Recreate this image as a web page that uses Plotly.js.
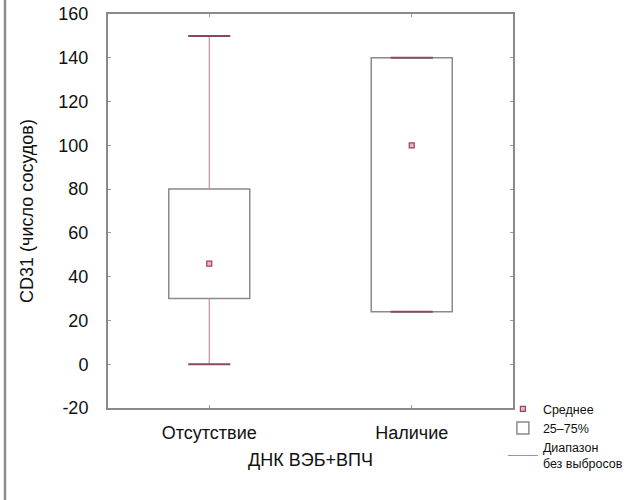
<!DOCTYPE html>
<html><head><meta charset="utf-8">
<script src="https://cdn.plot.ly/plotly-3.0.1.min.js"></script>
<style>html,body{margin:0;padding:0;background:#fff}#chart{width:633px;height:500px}</style>
</head><body><div id="chart"></div>
<script>
var categories = ['Отсутствие', 'Наличие'];
var q1Values = [30, 24];
var q3Values = [80, 140];
var minValues = [0, 24];
var maxValues = [150, 140];
var meanValues = [46, 100];
var yTicks = [-20, 0, 20, 40, 60, 80, 100, 120, 140, 160];
var yTickText = ['-20', '0', '20', '40', '60', '80', '100', '120', '140', '160'];

var idx = categories.map(function (c, i) { return i; });
var capHalf = 0.104;
var whiskerColor = '#c8809a';
var capColor = '#8a4a5a';

var wx = [], wy = [], cx = [], cy = [];
idx.forEach(function (i) {
  wx.push(i, i, null, i, i, null);
  wy.push(q3Values[i], maxValues[i], null, q1Values[i], minValues[i], null);
  cx.push(i - capHalf, i + capHalf, null, i - capHalf, i + capHalf, null);
  cy.push(maxValues[i], maxValues[i], null, minValues[i], minValues[i], null);
});

var traces = [
  {
    type: 'bar', x: idx, y: idx.map(function (i) { return q3Values[i] - q1Values[i]; }),
    base: q1Values, width: 0.4, name: '25–75%', legendrank: 2,
    marker: { color: '#ffffff', line: { color: '#8e8890', width: 1.5 } },
    hoverinfo: 'skip'
  },
  {
    type: 'scatter', mode: 'lines', x: wx, y: wy, name: 'Диапазон<br>без выбросов', legendrank: 3,
    line: { color: whiskerColor, width: 1.1 }, hoverinfo: 'skip'
  },
  {
    type: 'scatter', mode: 'lines', x: cx, y: cy, showlegend: false,
    line: { color: capColor, width: 2 }, hoverinfo: 'skip'
  },
  {
    type: 'scatter', mode: 'markers', x: idx, y: meanValues, name: 'Среднее', legendrank: 1,
    marker: { symbol: 'square', size: 5, color: '#e6b8c4', line: { color: '#a04060', width: 1.2 } },
    hoverinfo: 'skip'
  }
];

var layout = {
  width: 633, height: 500,
  margin: { l: 108, r: 120, t: 14, b: 92, autoexpand: false },
  paper_bgcolor: '#ffffff', plot_bgcolor: '#ffffff',
  font: { family: 'Liberation Sans, Arial, sans-serif', size: 18, color: '#111' },
  barmode: 'overlay',
  showlegend: true,
  legend: {
    x: 0.975, xanchor: 'left', y: 0.035, yanchor: 'top',
    bgcolor: 'rgba(0,0,0,0)', font: { size: 12.5, color: '#111' },
    itemwidth: 30, tracegroupgap: 0
  },
  xaxis: {
    range: [-0.5, 1.5], tickvals: idx, ticktext: categories,
    showgrid: false, zeroline: false,
    showline: true, linecolor: '#8a8a8a', linewidth: 2, mirror: 'ticks',
    ticks: 'inside', ticklen: 3, tickcolor: '#999',
    ticklabelstandoff: 7,
    title: { text: 'ДНК ВЭБ+ВПЧ', font: { size: 18 }, standoff: 12 }
  },
  yaxis: {
    range: [-20, 160], tickvals: yTicks, ticktext: yTickText,
    showgrid: false, zeroline: false,
    showline: true, linecolor: '#8a8a8a', linewidth: 2, mirror: 'ticks',
    ticks: 'inside', ticklen: 3, tickcolor: '#999',
    ticklabelstandoff: 14,
    title: { text: 'CD31 (число сосудов)', font: { size: 18 }, standoff: 20 }
  },
  shapes: [
    { type: 'line', xref: 'paper', yref: 'paper', x0: -0.2543, x1: -0.2543, y0: -0.3, y1: 1.05,
      line: { color: '#8c8c8c', width: 2.5 } }
  ]
};

Plotly.newPlot('chart', traces, layout, { displayModeBar: false, staticPlot: true });
</script>
</body></html>
